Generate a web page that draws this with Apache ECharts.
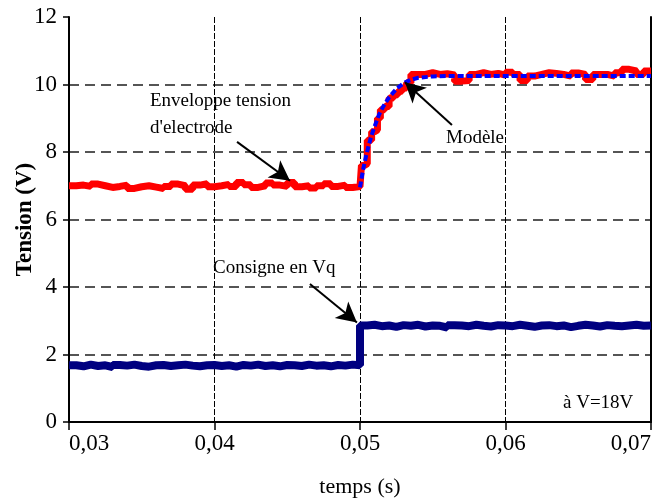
<!DOCTYPE html>
<html>
<head>
<meta charset="utf-8">
<script src="https://cdn.jsdelivr.net/npm/echarts@6/dist/echarts.min.js"></script>
<style>html,body{margin:0;padding:0;background:#fff;}#c{width:655px;height:503px;}</style>
</head>
<body>
<div id="c"></div>
<script>
// Red: electrode voltage envelope
var redT = [0.0300,0.0305,0.0310,0.0315,0.0320,0.0325,0.0330,0.0335,0.0340,0.0345,0.0350,0.0355,0.0360,0.0365,0.0370,0.0375,0.0380,0.0385,0.0390,0.0395,0.0400,0.0405,0.0410,0.0415,0.0420,0.0425,0.0430,0.0435,0.0440,0.0445,0.0450,0.0455,0.0460,0.0465,0.0470,0.0475,0.0480,0.0485,0.0490,0.0495,0.0500,
  0.0501,0.0503,0.0505,0.0508,0.0510,0.0512,0.0514,0.0517,0.0520,0.0523,0.0526,0.0529,0.0532,0.0535,
  0.0540,0.0545,0.0550,0.0555,0.0560,0.0565,0.0570,0.0575,0.0580,0.0585,0.0590,0.0595,0.0600,0.0605,0.0610,0.0615,0.0620,0.0625,0.0630,0.0635,0.0640,0.0645,0.0650,0.0655,0.0660,0.0665,0.0670,0.0675,0.0680,0.0685,0.0690,0.0695,0.0700];
var redV = [7.00,7.02,6.98,7.05,7.00,6.95,6.98,7.02,6.92,6.97,7.00,6.96,6.92,6.98,7.05,7.00,6.90,7.02,7.06,6.97,7.00,7.04,6.98,7.10,7.03,6.95,7.00,7.08,7.02,6.98,7.10,6.97,7.00,6.93,7.00,7.06,6.98,7.02,6.95,6.98,6.97,
  7.60,7.65,8.35,8.60,8.65,9.00,9.25,9.35,9.60,9.70,9.80,9.90,10.05,10.30,
  10.30,10.35,10.30,10.32,10.28,10.10,10.12,10.30,10.35,10.30,10.33,10.28,10.36,10.30,10.12,10.25,10.30,10.35,10.33,10.30,10.25,10.34,10.30,10.15,10.30,10.30,10.25,10.35,10.45,10.40,10.30,10.40,10.38];
// Blue dashed: model
var modelT = [0.0500,0.0502,0.0504,0.0506,0.0508,0.0510,0.0513,0.0516,0.0520,0.0525,0.0530,0.0535,0.0540,0.0550,0.0560,0.0700];
var modelV = [6.95,7.45,7.85,8.20,8.50,8.75,9.10,9.35,9.62,9.87,10.04,10.14,10.20,10.24,10.25,10.25];
// Navy: set-point Vq
var vqT = [0.0300,0.0305,0.0310,0.0315,0.0320,0.0325,0.0330,0.0335,0.0340,0.0345,0.0350,0.0355,0.0360,0.0365,0.0370,0.0375,0.0380,0.0385,0.0390,0.0395,0.0400,0.0405,0.0410,0.0415,0.0420,0.0425,0.0430,0.0435,0.0440,0.0445,0.0450,0.0455,0.0460,0.0465,0.0470,0.0475,0.0480,0.0485,0.0490,0.0495,0.0500,
  0.0505,0.0510,0.0515,0.0520,0.0525,0.0530,0.0535,0.0540,0.0545,0.0550,0.0555,0.0560,0.0565,0.0570,0.0575,0.0580,0.0585,0.0590,0.0595,0.0600,0.0605,0.0610,0.0615,0.0620,0.0625,0.0630,0.0635,0.0640,0.0645,0.0650,0.0655,0.0660,0.0665,0.0670,0.0675,0.0680,0.0685,0.0690,0.0695,0.0700];
var vqV = [1.68,1.65,1.70,1.66,1.68,1.63,1.69,1.67,1.70,1.66,1.64,1.68,1.69,1.66,1.68,1.70,1.67,1.65,1.68,1.69,1.66,1.68,1.64,1.69,1.67,1.70,1.66,1.68,1.65,1.69,1.68,1.66,1.70,1.67,1.68,1.65,1.69,1.67,1.70,1.68,2.86,
  2.88,2.84,2.86,2.82,2.87,2.85,2.88,2.83,2.86,2.85,2.80,2.87,2.86,2.84,2.88,2.85,2.83,2.87,2.86,2.84,2.88,2.85,2.82,2.86,2.87,2.84,2.86,2.81,2.85,2.88,2.86,2.83,2.87,2.85,2.84,2.86,2.88,2.85,2.86,2.87];
var xTicks = {min:0.03, max:0.07, interval:0.01};
var yTicks = {min:0, max:12, interval:2};

function zip(a,b){ return a.map(function(t,i){ return [t,b[i]]; }); }
var FONT = 'Liberation Serif';

var chart = echarts.init(document.getElementById('c'), null, {renderer:'canvas'});
chart.setOption({
  animation:false,
  backgroundColor:'#ffffff',
  grid:{left:69,right:4,top:17,bottom:81,containLabel:false,outerBoundsMode:'none'},
  xAxis:{
    type:'value', min:xTicks.min, max:xTicks.max, interval:xTicks.interval,
    name:'temps (s)', nameLocation:'middle', nameGap:54, nameMoveOverlap:false,
    nameTextStyle:{fontFamily:FONT,fontSize:22,color:'#000'},
    axisLine:{show:true,onZero:false,lineStyle:{color:'#000',width:2}},
    axisTick:{show:true,inside:false,length:8,lineStyle:{color:'#000',width:1.5}},
    axisLabel:{margin:10,fontFamily:FONT,fontSize:23,color:'#000',alignMinLabel:'left',alignMaxLabel:'right',
      formatter:function(v){return v.toFixed(2).replace('.',',');}},
    splitLine:{show:true,showMinLine:false,showMaxLine:false,lineStyle:{color:'#000',width:1,type:[6,2]}}
  },
  yAxis:[{
    type:'value', min:yTicks.min, max:yTicks.max, interval:yTicks.interval,
    name:'Tension (V)', nameLocation:'middle', nameGap:32, nameRotate:90, nameMoveOverlap:false,
    nameTextStyle:{fontFamily:FONT,fontSize:23,fontWeight:'bold',color:'#000'},
    axisLine:{show:true,onZero:false,lineStyle:{color:'#000',width:2}},
    axisTick:{show:true,inside:false,length:6,lineStyle:{color:'#000',width:1.5}},
    axisLabel:{margin:12,fontFamily:FONT,fontSize:23,color:'#000'},
    splitLine:{show:true,showMinLine:false,showMaxLine:false,lineStyle:{color:'#555',width:2,type:[10,6]}}
  },{
    type:'value', min:yTicks.min, max:yTicks.max, position:'right',
    axisLine:{show:true,onZero:false,lineStyle:{color:'#000',width:2}},
    axisTick:{show:false}, axisLabel:{show:false}, splitLine:{show:false}
  }],
  series:[
    {name:'Consigne en Vq', type:'line', step:'end', showSymbol:false, data:zip(vqT,vqV),
     lineStyle:{color:'#000080',width:8}, itemStyle:{color:'#000080'},
     markLine:{silent:true, symbol:['none','arrow'], symbolSize:[16,20], label:{show:false},
       lineStyle:{color:'#000',width:2,type:'solid'},
       data:[[{coord:[0.04656,4.09]},{coord:[0.04979,2.95]}]]}},
    {name:'Enveloppe', type:'line', step:'end', showSymbol:false, data:zip(redT,redV),
     lineStyle:{color:'#ff0000',width:7}, itemStyle:{color:'#ff0000'},
     markLine:{silent:true, symbol:['none','arrow'], symbolSize:[16,20], label:{show:false},
       lineStyle:{color:'#000',width:2,type:'solid'},
       data:[[{coord:[0.04155,8.30]},{coord:[0.04519,7.15]}]]}},
    {name:'Modèle', type:'line', showSymbol:false, data:zip(modelT,modelV),
     lineStyle:{color:'#0000ff',width:4,type:[6,3]}, itemStyle:{color:'#0000ff'},
     markLine:{silent:true, symbol:['none','arrow'], symbolSize:[16,20], label:{show:false},
       lineStyle:{color:'#000',width:2,type:'solid'},
       data:[[{coord:[0.05632,8.80]},{coord:[0.05309,10.07]}]]}}
  ],
  graphic:[
    {type:'text',left:150,top:92,style:{text:'Enveloppe tension',font:'19px "Liberation Serif"',fill:'#000'}},
    {type:'text',left:150,top:119,style:{text:"d'electrode",font:'19px "Liberation Serif"',fill:'#000'}},
    {type:'text',left:446,top:129,style:{text:'Modèle',font:'19px "Liberation Serif"',fill:'#000'}},
    {type:'text',left:213,top:259,style:{text:'Consigne en Vq',font:'19px "Liberation Serif"',fill:'#000'}},
    {type:'text',left:563,top:394,style:{text:'à V=18V',font:'19px "Liberation Serif"',fill:'#000'}}
  ]
});
</script>
</body>
</html>
